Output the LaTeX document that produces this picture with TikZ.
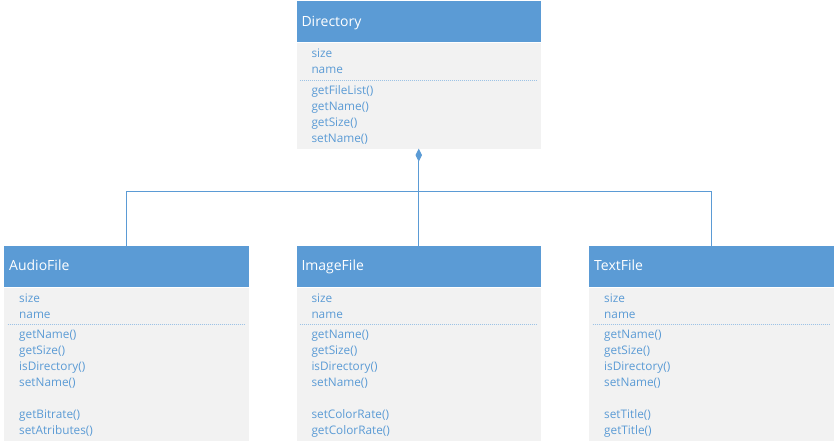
\documentclass[tikz,border=0pt]{standalone}
\usepackage{fontspec}
\setmainfont{Open Sans}
\usepackage{tikz}
\usetikzlibrary{arrows.meta,positioning}
\definecolor{umlblue}{HTML}{5B9BD5}
\definecolor{umlgray}{HTML}{F2F2F2}
\definecolor{umldash}{HTML}{9DC3E6}

\begin{document}
\begin{tikzpicture}[x=1pt,y=-1pt]
        \useasboundingbox (0,0) rectangle (835,445);
        \tikzstyle{head} = [fill=umlblue, anchor=north west, inner sep=0pt, minimum width=244.5pt, minimum height=41pt];
        \tikzstyle{body} = [fill=umlgray, anchor=north west, inner sep=0pt, minimum width=244.5pt];
        \tikzstyle{title} = [anchor=base west, inner sep=0pt, text=white, font=\fontsize{14}{16}\selectfont];
        \tikzstyle{member} = [anchor=base west, inner sep=0pt, text=umlblue, font=\fontsize{11.8}{14}\selectfont];
        \tikzstyle{sep} = [umldash, line width=1pt, dash pattern=on 1pt off 1pt];
        \tikzstyle{link} = [umlblue, line width=1pt];
        % Directory
        \node[head] (dir-head) at (296.3,1) {};
        \node[body, minimum height=105.3pt] (dir-body) at (296.3,43) {};
        \node[title] (dir-title) at (301.3,26.7) {Directory};
        \foreach \m/\y [count=\i] in {size/57.5, name/73.5, getFileList()/94, getName()/110, getSize()/126, setName()/142}
        \node[member] (dir-m\i) at (311.3,\y) {\m};
        \draw[sep] (299.8,80) -- (537.3,80);
        % file classes
        \foreach \id/\x/\cls/\ea/\eb in {audio/4/AudioFile/getBitrate()/setAtributes(), image/296.3/ImageFile/setColorRate()/getColorRate(), text/589/TextFile/setTitle()/getTitle()}
        {
        \node[head] (\id-head) at (\x,245.7) {};
        \node[body, minimum height=152.8pt] (\id-body) at (\x,287.7) {};
        \node[title] (\id-title) at (\x+5,270.7) {\cls};
        \foreach \m/\y [count=\i] in {size/302.5, name/318.5, getName()/338.5, getSize()/354.5, isDirectory()/370.5, setName()/386.5, \ea/418.5, \eb/434.5}
        \node[member] (\id-m\i) at (\x+15,\y) {\m};
        \draw[sep] (\x+3.5,324.5) -- (\x+241,324.5);
        }
        % connectors
        \coordinate (branch) at (418.5,191.5);
        \draw[link, {Diamond[length=13pt,width=6.5pt]}-] (dir-body.south) -- (image-head.north);
        \draw[link] (audio-head.north) |- (branch);
        \draw[link] (text-head.north) |- (branch);
\end{tikzpicture}
\end{document}
